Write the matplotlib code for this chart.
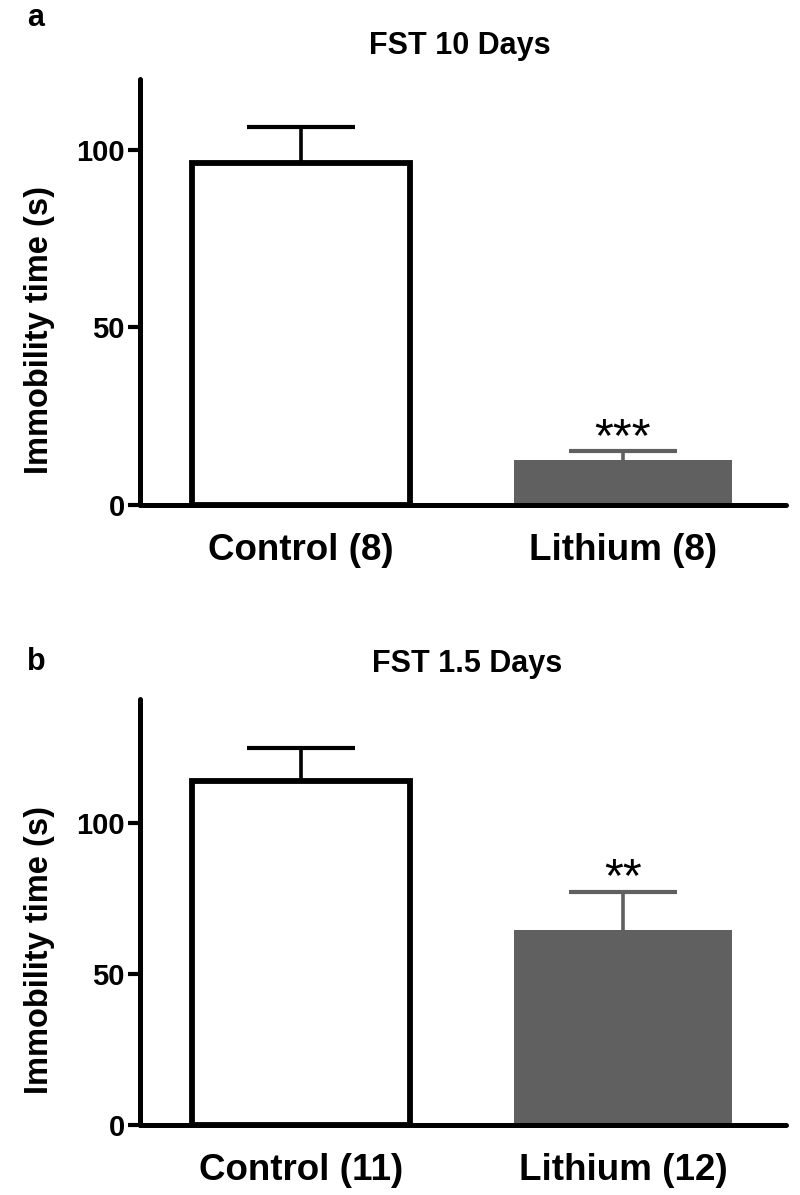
import matplotlib
matplotlib.use("Agg")
import matplotlib.pyplot as plt

plt.rcParams['font.family'] = ['Liberation Sans', 'DejaVu Sans']

# ---- data ----
categories_a = ["Control (8)", "Lithium (8)"]
means_a = [96.4, 12.7]
sems_a = [10.0, 2.4]
stars_a = ["", "***"]
title_a = "FST 10 Days"
yticks_a = [0, 50, 100]
ymax_a = 120

categories_b = ["Control (11)", "Lithium (12)"]
means_b = [114.0, 64.5]
sems_b = [10.8, 12.7]
stars_b = ["", "**"]
title_b = "FST 1.5 Days"
yticks_b = [0, 50, 100]
ymax_b = 141

ylabel = "Immobility time (s)"
face_colors = ["white", "#606060"]
edge_colors = ["black", "none"]
err_colors = ["black", "#606060"]

W, H = 800, 1195
fig = plt.figure(figsize=(W / 100, H / 100), dpi=100)


def panel(rect, cats, means, sems, stars, title, letter, yticks, ymax,
          title_xy, letter_xy):
    ax = fig.add_axes(rect)
    x = list(range(len(cats)))
    for i in x:
        ax.bar(i, means[i], width=0.677, color=face_colors[i],
               edgecolor=edge_colors[i],
               linewidth=4.2 if edge_colors[i] != "none" else 0,
               joinstyle='miter', zorder=2)
        _, caps, _ = ax.errorbar(i, means[i], yerr=[[0], [sems[i]]],
                                 fmt='none', ecolor=err_colors[i],
                                 elinewidth=2.6, capsize=39,
                                 capthick=3.0, zorder=1)
        caps[0].set_visible(False)
        if stars[i]:
            ax.annotate(stars[i], xy=(i, means[i] + sems[i]),
                        xytext=(0, -7), textcoords='offset points',
                        ha='center', va='bottom', fontsize=35,
                        color='black')
    ax.set_xlim(-0.5, 1.506)
    ax.set_ylim(0, ymax)
    ax.set_yticks(yticks)
    ax.set_xticks(x)
    ax.set_xticklabels(cats, fontsize=26.5, fontweight='bold')
    ax.tick_params(axis='x', length=0, pad=20)
    ax.tick_params(axis='y', direction='out', length=9, width=3,
                   labelsize=21, pad=2)
    for lab in ax.get_yticklabels():
        lab.set_fontweight('bold')
    for s in ['top', 'right']:
        ax.spines[s].set_visible(False)
    for s in ['left', 'bottom']:
        ax.spines[s].set_linewidth(3.6)
        ax.spines[s].set_capstyle('round')
    ax.set_ylabel(ylabel, fontsize=23.5, fontweight='bold')
    ax.yaxis.set_label_coords((55 - 140) / 646, 0.41)
    fig.text(title_xy[0] / W, 1 - title_xy[1] / H, title, ha='center',
             va='center', fontsize=22, fontweight='bold')
    fig.text(letter_xy[0] / W, 1 - letter_xy[1] / H, letter, ha='center',
             va='center', fontsize=22, fontweight='bold')
    return ax


panel([140 / W, 1 - 505 / H, 646 / W, 426 / H], categories_a, means_a,
      sems_a, stars_a, title_a, "a", yticks_a, ymax_a, (460, 46), (36, 18))
panel([140 / W, 1 - 1125 / H, 646 / W, 426 / H], categories_b, means_b,
      sems_b, stars_b, title_b, "b", yticks_b, ymax_b, (467, 664), (36, 662))

fig.savefig("out.png", dpi=100)
